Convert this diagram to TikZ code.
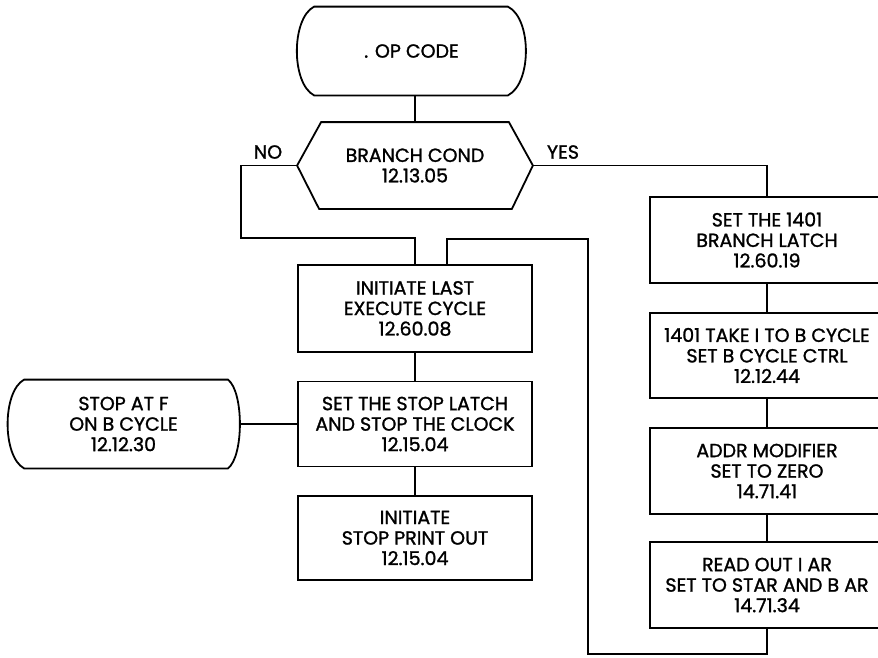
\documentclass[tikz,border=0pt]{standalone}
\usepackage{fontspec}
\setmainfont{Poppins}[FakeBold=1.3]
\usetikzlibrary{calc}
\begin{document}
\begin{tikzpicture}[x=1pt,y=-1pt,
  line width=1.8pt,
  txt/.style={font=\fontsize{19}{20.5}\selectfont, align=center, inner sep=0pt},
  box/.style={txt, draw, minimum width=234pt, minimum height=86pt},
  shell/.style={txt, minimum width=#1, minimum height=87pt},
  lab/.style={font=\fontsize{19}{20}\selectfont, inner sep=0pt}]
\useasboundingbox (0,0) rectangle (878,657);
\clip (0,0) rectangle (878,657);

% top terminal
\node[shell=227pt] (op) at (411.5,51) {. OP CODE};
\draw ($(op.north west)+(17,0)$) -- ($(op.north east)+(-18,0)$)
  .. controls ($(op.north east)+(6,12)$) and ($(op.south east)+(6,-12)$) .. ($(op.south east)+(-18,0)$)
  -- ($(op.south west)+(17,0)$)
  .. controls ($(op.south west)+(-6,-12)$) and ($(op.north west)+(-6,12)$) .. cycle;

% decision hexagon
\node[txt, minimum width=234pt, minimum height=85pt] (hex) at (415,165.5) {BRANCH COND\\12.13.05};
\draw (hex.west) -- ($(hex.north west)+(24,0)$) -- ($(hex.north east)+(-24,0)$) -- (hex.east)
  -- ($(hex.south east)+(-21,0)$) -- ($(hex.south west)+(22,0)$) -- cycle;
\node[lab] (no) at (268,152) {NO};
\node[lab] (yes) at (563,152) {YES};

% middle column
\node[box, minimum height=87pt] (b1) at (415,308.5) {INITIATE LAST\\EXECUTE CYCLE\\12.60.08};
\node[box, minimum height=85pt] (b2) at (415,424) {SET THE STOP LATCH\\AND STOP THE CLOCK\\12.15.04};
\node[box, minimum height=84pt] (b3) at (415,538) {INITIATE\\STOP PRINT OUT\\12.15.04};

% stop terminal
\node[shell=231pt] (stop) at (123.5,424) {STOP AT F\\ON B CYCLE\\12.12.30};
\draw ($(stop.north west)+(17,0)$) -- ($(stop.north east)+(-12,0)$)
  .. controls ($(stop.north east)+(4,12)$) and ($(stop.south east)+(4,-12)$) .. ($(stop.south east)+(-12,0)$)
  -- ($(stop.south west)+(17,0)$)
  .. controls ($(stop.south west)+(-5,-12)$) and ($(stop.north west)+(-5,12)$) .. cycle;

% right column
\node[box] (r1) at (767,240) {SET THE 1401\\BRANCH LATCH\\12.60.19};
\node[box, minimum height=85pt] (r2) at (767,355.5) {1401 TAKE I TO B CYCLE\\SET B CYCLE CTRL\\12.12.44};
\node[box] (r3) at (767,471) {ADDR MODIFIER\\SET TO ZERO\\14.71.41};
\node[box] (r4) at (767,585) {READ OUT I AR\\SET TO STAR AND B AR\\14.71.34};

% connectors
\coordinate (n1) at (241,238);
\coordinate (l1) at (588,654);
\coordinate (l2) at (588,239);
\coordinate (b1in) at ($(b1.north)+(32,0)$);

\draw (hex.north) -- (hex.north |- op.south);
\draw (hex.west) -| (n1) -| (b1.north);
\draw (hex.east) -| (r1.north);
\draw (b1.south) -- (b2.north);
\draw (b2.south) -- (b3.north);
\draw (stop.east) -- (b2.west);
\draw (r1.south) -- (r2.north);
\draw (r2.south) -- (r3.north);
\draw (r3.south) -- (r4.north);
\draw (r4.south) |- (l1) -- (l2) -| (b1in);
\end{tikzpicture}
\end{document}
